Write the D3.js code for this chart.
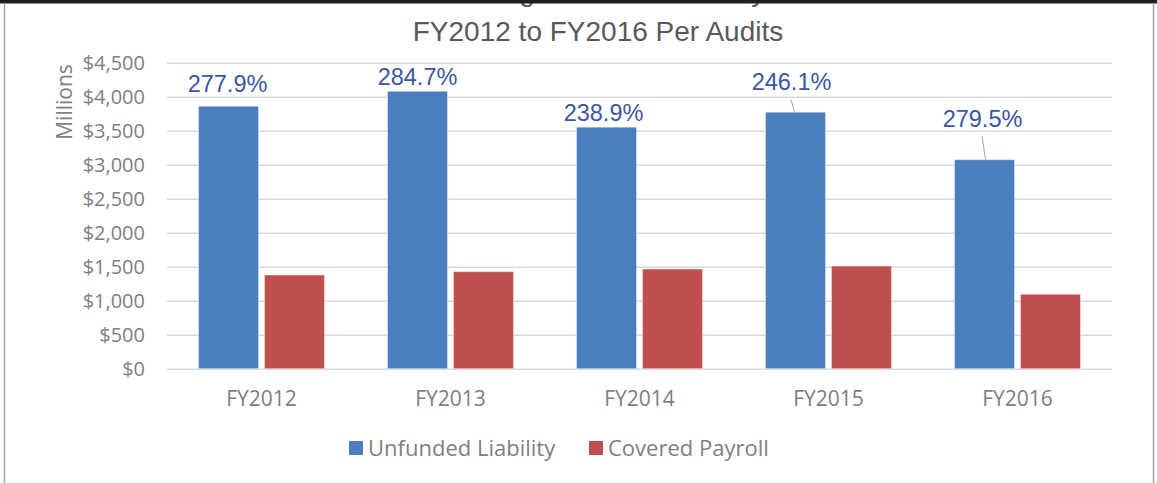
<!DOCTYPE html>
<html>
<head>
<meta charset="utf-8">
<script src="https://cdn.jsdelivr.net/npm/d3@7"></script>
<style>
	body{margin:0;background:#fff;}
	svg{display:block;}
</style>
</head>
<body>
<script>
// chart data
const years = ["FY2012","FY2013","FY2014","FY2015","FY2016"];
const unfunded = [3860,4080,3552,3772,3074];
const payroll = [1378,1427,1466,1510,1095];
const ratioLabels = ["277.9%","284.7%","238.9%","246.1%","279.5%"];
const yTicks = [0,500,1000,1500,2000,2500,3000,3500,4000,4500];
const seriesNames = ["Unfunded Liability","Covered Payroll"];

// hand-placed label nudges (px from top of the blue bar), and leader line flag
const labelNudge = [
	{dx:-1,dy:-14,leader:false},
	{dx:0,dy:-6.7,leader:false},
	{dx:-3,dy:-5.7,leader:false},
	{dx:-4,dy:-21.7,leader:true},
	{dx:-2,dy:-32.6,leader:true}
];

const width = 1157;
const height = 483;
const margin = {top:62.7,left:167,right:45,bottom:114.3};
const innerWidth = width - margin.left - margin.right;
const innerHeight = height - margin.top - margin.bottom;
const colors = ["#4a7ebf","#c0504d"];
const grey = "#7f7f7f";

let svg = d3.select("body").append("svg")
	.attr("width",width)
	.attr("height",height);

// title (first line is cut off by the top of the picture)
svg.append("text")
	.attr("x",598).attr("y",1)
	.attr("text-anchor","middle")
	.style("font-family","'Liberation Sans', Arial, sans-serif")
	.style("font-size","28px")
	.attr("fill","#595959")
	.text("Growing Unfunded Liability");
svg.append("text")
	.attr("x",598).attr("y",41)
	.attr("text-anchor","middle")
	.style("font-family","'Liberation Sans', Arial, sans-serif")
	.style("font-size","28px")
	.attr("fill","#595959")
	.text("FY2012 to FY2016 Per Audits");

// frame (drawn over the cut title line)
svg.append("rect").attr("x",0).attr("y",-30).attr("width",width).attr("height",33.5).attr("fill","#1e1e1e");
svg.append("line").attr("x1",4.5).attr("x2",4.5).attr("y1",3).attr("y2",height).attr("stroke","#a6a6a6").attr("stroke-width",1.5);
svg.append("line").attr("x1",1153.5).attr("x2",1153.5).attr("y1",3).attr("y2",height).attr("stroke","#a6a6a6").attr("stroke-width",1.5);

let g = svg.append("g").attr("transform","translate("+margin.left+","+margin.top+")");

let yScale = d3.scaleLinear().domain([0,4500]).range([innerHeight,0]);
let x0 = d3.scaleBand().domain(years).range([0,innerWidth]).paddingInner(1/3).paddingOuter(1/6);
let x1 = d3.scaleBand().domain(seriesNames).range([0,x0.bandwidth()]).paddingInner(0.09);

// gridlines + y labels
let yAxis = g.append("g")
	.call(d3.axisLeft(yScale).tickValues(yTicks).tickSize(-innerWidth).tickPadding(22)
		.tickFormat(d=>"$"+d3.format(",")(d)));
yAxis.select(".domain").remove();
yAxis.selectAll(".tick line").attr("stroke","#d9d9d9").attr("stroke-width",1.5);
yAxis.selectAll(".tick text")
	.attr("fill",grey)
	.style("font-family","'Open Sans', sans-serif")
	.style("font-size","20px");

// x labels
let xAxis = g.append("g")
	.attr("transform","translate(0,"+innerHeight+")")
	.call(d3.axisBottom(x0).tickSize(0).tickPadding(22));
xAxis.select(".domain").remove();
xAxis.selectAll(".tick text")
	.attr("fill",grey)
	.style("font-family","'Open Sans', sans-serif")
	.style("font-size","21px");

// bars
const rows = years.map((y,i)=>({year:y,values:[unfunded[i],payroll[i]]}));
let groups = g.selectAll(".grp").data(rows).enter().append("g")
	.attr("class","grp")
	.attr("transform",d=>"translate("+x0(d.year)+",0)");
groups.selectAll("rect")
	.data(d=>d.values.map((v,j)=>({name:seriesNames[j],value:v,j:j})))
	.enter().append("rect")
	.attr("x",d=>x1(d.name))
	.attr("y",d=>yScale(d.value))
	.attr("width",x1.bandwidth())
	.attr("height",d=>innerHeight-yScale(d.value))
	.attr("fill",d=>colors[d.j])
	.attr("stroke","#ffffff").attr("stroke-opacity",0.45).attr("stroke-width",1);

// ratio labels over the blue bars
years.forEach((y,i)=>{
	const cx = x0(y)+x1(seriesNames[0])+x1.bandwidth()/2;
	const top = yScale(unfunded[i]);
	const n = labelNudge[i];
	if(n.leader){
		g.append("line")
			.attr("x1",cx+n.dx-0.5).attr("y1",top+n.dy+9)
			.attr("x2",cx+n.dx+3).attr("y2",top)
			.attr("stroke","#a6a6a6").attr("stroke-width",1);
	}
	g.append("text")
		.attr("x",cx+n.dx).attr("y",top+n.dy)
		.attr("text-anchor","middle")
		.style("font-family","'Liberation Sans', Arial, sans-serif")
		.style("font-size","23.5px")
		.attr("fill","#3b56a5")
		.text(ratioLabels[i]);
});

// y axis title
svg.append("text")
	.attr("transform","translate(72,102) rotate(-90)")
	.attr("text-anchor","middle")
	.style("font-family","'Open Sans', sans-serif")
	.style("font-size","21px")
	.attr("fill",grey)
	.text("Millions");

// legend
const legendX = [349,589];
seriesNames.forEach((s,i)=>{
	svg.append("rect").attr("x",legendX[i]).attr("y",441).attr("width",14).attr("height",14).attr("fill",colors[i]);
	svg.append("text")
		.attr("x",legendX[i]+19).attr("y",456)
		.style("font-family","'Open Sans', sans-serif")
		.style("font-size","22px")
		.attr("fill",grey)
		.text(s);
});
</script>
</body>
</html>
